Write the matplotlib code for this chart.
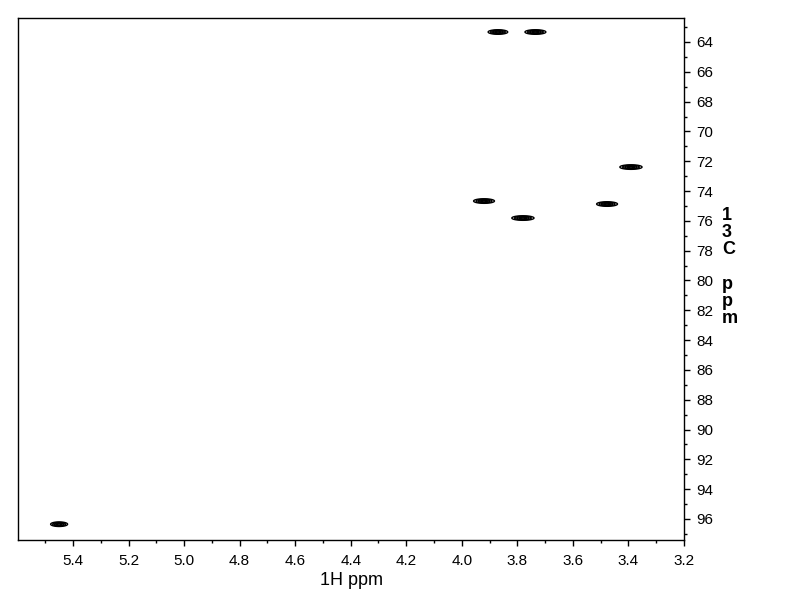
import numpy as np
import matplotlib.pyplot as plt

plt.rcParams['font.family'] = ['Liberation Sans', 'DejaVu Sans']

# peak positions (1H ppm, 13C ppm)
h_ppm = [3.87, 3.735, 3.92, 3.78, 3.477, 3.391, 5.45]
c_ppm = [63.33, 63.33, 74.67, 75.81, 74.87, 72.39, 96.35]
h_width = [0.030, 0.032, 0.032, 0.034, 0.032, 0.034, 0.026]
c_width = [0.13, 0.13, 0.13, 0.13, 0.13, 0.13, 0.13]

x_ticks = [5.4, 5.2, 5.0, 4.8, 4.6, 4.4, 4.2, 4.0, 3.8, 3.6, 3.4, 3.2]
y_ticks = list(range(64, 97, 2))

fig = plt.figure(figsize=(7.92, 6.12), dpi=100)
ax = fig.add_axes([18 / 792, 1 - 540 / 612, 666 / 792, 522 / 612])

# build the 2D spectrum surface from the peak list
xg = np.linspace(3.2, 5.6, 2400)
yg = np.linspace(62.4, 97.4, 1400)
X, Y = np.meshgrid(xg, yg)
Z = np.zeros_like(X)
for hx, cy, wx, wy in zip(h_ppm, c_ppm, h_width, c_width):
    Z += np.exp(-((X - hx) / wx) ** 2 - ((Y - cy) / wy) ** 2)

ax.contour(X, Y, Z, levels=[0.25, 0.45, 0.65, 0.85], colors='black', linewidths=1.0)

ax.set_xlim(5.598, 3.2)
ax.set_ylim(97.41, 62.39)
ax.set_xticks(x_ticks)
ax.set_xticklabels(['%.1f' % v for v in x_ticks])
ax.set_xticks(np.arange(3.3, 5.6, 0.2), minor=True)
ax.yaxis.tick_right()
ax.set_yticks(y_ticks)
ax.set_yticks(range(63, 98, 2), minor=True)
ax.tick_params(which='major', length=4, width=1, labelsize=11, color='black')
ax.tick_params(which='minor', length=2.5, width=1)
ax.tick_params(axis='x', pad=6)
ax.tick_params(axis='y', pad=5)
for s in ax.spines.values():
    s.set_linewidth(1)

ax.set_xlabel('1H ppm', fontsize=13, labelpad=3)
fig.text(722 / 792, 1 - 267 / 612, '1\n3\nC\n\np\np\nm', fontsize=13,
         fontweight='bold', va='center', ha='left', linespacing=1.02)

fig.savefig('out.png', dpi=100)
